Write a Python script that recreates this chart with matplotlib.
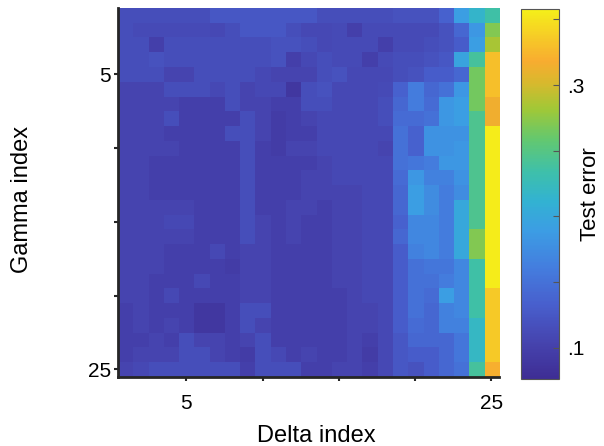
import numpy as np
import matplotlib
matplotlib.use("Agg")
import matplotlib.pyplot as plt
from matplotlib.colors import LinearSegmentedColormap

plt.rcParams["font.family"] = ["Liberation Sans", "DejaVu Sans"]

# test error, rows = gamma index 1..25 (top to bottom), cols = delta index 1..25
test_error = [
    [0.115, 0.115, 0.115, 0.115, 0.115, 0.115, 0.125, 0.125, 0.125, 0.125, 0.125, 0.125, 0.125, 0.115, 0.115, 0.115, 0.115, 0.115, 0.12, 0.12, 0.12, 0.135, 0.19, 0.215, 0.235],
    [0.115, 0.112, 0.112, 0.112, 0.112, 0.112, 0.11, 0.115, 0.125, 0.125, 0.125, 0.115, 0.11, 0.11, 0.112, 0.10, 0.112, 0.112, 0.112, 0.112, 0.112, 0.12, 0.14, 0.185, 0.27],
    [0.115, 0.115, 0.10, 0.115, 0.115, 0.115, 0.115, 0.115, 0.115, 0.115, 0.12, 0.12, 0.115, 0.11, 0.112, 0.112, 0.112, 0.10, 0.112, 0.112, 0.115, 0.12, 0.13, 0.19, 0.285],
    [0.115, 0.115, 0.12, 0.115, 0.115, 0.115, 0.115, 0.115, 0.115, 0.115, 0.12, 0.10, 0.11, 0.115, 0.112, 0.112, 0.10, 0.112, 0.115, 0.115, 0.12, 0.125, 0.195, 0.24, 0.33],
    [0.115, 0.115, 0.115, 0.105, 0.105, 0.115, 0.115, 0.115, 0.115, 0.11, 0.105, 0.105, 0.105, 0.115, 0.12, 0.11, 0.11, 0.11, 0.115, 0.12, 0.13, 0.13, 0.14, 0.265, 0.33],
    [0.105, 0.105, 0.105, 0.115, 0.115, 0.115, 0.11, 0.115, 0.105, 0.11, 0.11, 0.09, 0.115, 0.12, 0.11, 0.11, 0.11, 0.112, 0.135, 0.16, 0.14, 0.15, 0.185, 0.265, 0.33],
    [0.105, 0.105, 0.105, 0.105, 0.10, 0.10, 0.10, 0.115, 0.105, 0.105, 0.10, 0.10, 0.115, 0.115, 0.11, 0.11, 0.11, 0.115, 0.14, 0.16, 0.145, 0.185, 0.19, 0.265, 0.315],
    [0.105, 0.105, 0.105, 0.115, 0.10, 0.10, 0.10, 0.10, 0.115, 0.105, 0.095, 0.10, 0.105, 0.11, 0.11, 0.11, 0.11, 0.115, 0.145, 0.145, 0.15, 0.185, 0.19, 0.245, 0.315],
    [0.105, 0.105, 0.105, 0.10, 0.10, 0.10, 0.10, 0.115, 0.115, 0.105, 0.095, 0.10, 0.10, 0.11, 0.11, 0.11, 0.11, 0.11, 0.15, 0.135, 0.18, 0.18, 0.18, 0.245, 0.355],
    [0.105, 0.105, 0.105, 0.105, 0.10, 0.10, 0.10, 0.10, 0.115, 0.10, 0.095, 0.105, 0.105, 0.11, 0.11, 0.11, 0.11, 0.105, 0.15, 0.135, 0.18, 0.18, 0.185, 0.245, 0.355],
    [0.105, 0.105, 0.10, 0.10, 0.10, 0.10, 0.10, 0.10, 0.115, 0.10, 0.10, 0.10, 0.10, 0.105, 0.11, 0.11, 0.11, 0.11, 0.15, 0.155, 0.16, 0.185, 0.185, 0.245, 0.355],
    [0.105, 0.105, 0.10, 0.10, 0.10, 0.10, 0.10, 0.10, 0.115, 0.10, 0.10, 0.10, 0.105, 0.105, 0.11, 0.11, 0.11, 0.11, 0.145, 0.185, 0.165, 0.165, 0.18, 0.245, 0.355],
    [0.105, 0.105, 0.10, 0.10, 0.10, 0.10, 0.10, 0.10, 0.115, 0.10, 0.10, 0.10, 0.105, 0.105, 0.105, 0.105, 0.11, 0.11, 0.14, 0.19, 0.175, 0.16, 0.175, 0.245, 0.355],
    [0.105, 0.105, 0.105, 0.105, 0.105, 0.10, 0.10, 0.10, 0.115, 0.10, 0.10, 0.105, 0.105, 0.10, 0.105, 0.105, 0.11, 0.11, 0.14, 0.19, 0.175, 0.16, 0.20, 0.245, 0.355],
    [0.105, 0.105, 0.105, 0.11, 0.11, 0.10, 0.10, 0.10, 0.115, 0.105, 0.10, 0.105, 0.10, 0.10, 0.105, 0.105, 0.11, 0.11, 0.135, 0.17, 0.17, 0.16, 0.20, 0.245, 0.355],
    [0.105, 0.105, 0.105, 0.105, 0.105, 0.10, 0.10, 0.10, 0.115, 0.105, 0.10, 0.105, 0.10, 0.10, 0.105, 0.105, 0.11, 0.11, 0.14, 0.17, 0.17, 0.16, 0.20, 0.27, 0.355],
    [0.105, 0.105, 0.105, 0.10, 0.10, 0.10, 0.11, 0.10, 0.105, 0.105, 0.10, 0.10, 0.10, 0.10, 0.105, 0.105, 0.11, 0.11, 0.13, 0.165, 0.17, 0.16, 0.20, 0.27, 0.355],
    [0.105, 0.105, 0.105, 0.10, 0.10, 0.10, 0.10, 0.095, 0.105, 0.105, 0.10, 0.10, 0.10, 0.10, 0.105, 0.105, 0.11, 0.11, 0.13, 0.15, 0.155, 0.155, 0.17, 0.235, 0.355],
    [0.105, 0.105, 0.10, 0.10, 0.10, 0.11, 0.10, 0.10, 0.105, 0.105, 0.10, 0.10, 0.10, 0.10, 0.105, 0.105, 0.11, 0.11, 0.13, 0.15, 0.15, 0.16, 0.17, 0.235, 0.355],
    [0.105, 0.105, 0.10, 0.11, 0.10, 0.10, 0.10, 0.10, 0.105, 0.105, 0.10, 0.10, 0.10, 0.10, 0.10, 0.105, 0.11, 0.11, 0.13, 0.15, 0.145, 0.19, 0.17, 0.235, 0.335],
    [0.10, 0.105, 0.10, 0.10, 0.10, 0.09, 0.09, 0.10, 0.115, 0.115, 0.10, 0.10, 0.10, 0.10, 0.10, 0.105, 0.105, 0.11, 0.13, 0.15, 0.14, 0.165, 0.17, 0.235, 0.335],
    [0.10, 0.105, 0.10, 0.105, 0.10, 0.09, 0.09, 0.10, 0.115, 0.105, 0.10, 0.10, 0.10, 0.10, 0.10, 0.105, 0.105, 0.11, 0.13, 0.145, 0.14, 0.165, 0.165, 0.22, 0.335],
    [0.10, 0.10, 0.105, 0.10, 0.115, 0.105, 0.105, 0.10, 0.105, 0.115, 0.10, 0.10, 0.10, 0.10, 0.10, 0.105, 0.10, 0.11, 0.125, 0.14, 0.14, 0.14, 0.155, 0.22, 0.335],
    [0.10, 0.105, 0.105, 0.105, 0.115, 0.115, 0.105, 0.10, 0.095, 0.115, 0.11, 0.10, 0.105, 0.10, 0.10, 0.105, 0.095, 0.11, 0.125, 0.13, 0.13, 0.14, 0.155, 0.22, 0.335],
    [0.105, 0.11, 0.115, 0.115, 0.115, 0.115, 0.115, 0.115, 0.10, 0.115, 0.115, 0.115, 0.10, 0.10, 0.105, 0.105, 0.10, 0.11, 0.125, 0.12, 0.13, 0.14, 0.15, 0.24, 0.32],
]
tick_idx = [5, 10, 15, 20, 25]
tick_labels = ["5", "", "", "", "25"]
cbar_ticks = [0.10, 0.15, 0.20, 0.25, 0.30, 0.35]
cbar_labels = [".1", "", "", "", ".3", ""]
clim = (0.076, 0.358)

# parula-like colormap, matched by eye to the reference rendering
cmap_stops = [
    (0.00, (62, 45, 148)),
    (0.10, (70, 68, 175)),
    (0.20, (72, 95, 205)),
    (0.30, (68, 125, 222)),
    (0.40, (60, 157, 228)),
    (0.48, (50, 178, 210)),
    (0.56, (62, 192, 170)),
    (0.65, (100, 200, 110)),
    (0.73, (160, 200, 55)),
    (0.80, (215, 185, 45)),
    (0.86, (248, 172, 48)),
    (0.93, (246, 205, 38)),
    (1.00, (245, 240, 25)),
]
parula = LinearSegmentedColormap.from_list(
    "parula", [(t, tuple(c / 255 for c in rgb)) for t, rgb in cmap_stops])

axis_col = "#262626"
data = np.array(test_error)
n = data.shape[0]

fig = plt.figure(figsize=(6.04, 4.46), dpi=100)
ax = fig.add_axes([0.195, 0.155, 0.631, 0.827])
im = ax.imshow(data, cmap=parula, vmin=clim[0], vmax=clim[1], aspect="auto",
               interpolation="nearest", extent=(0.5, n + 0.5, n + 0.5, 0.5))

ax.set_xticks(tick_idx)
ax.set_xticklabels(tick_labels)
ax.set_yticks(tick_idx)
ax.set_yticklabels(tick_labels)
ax.tick_params(direction="out", length=3, width=1.5, color=axis_col,
               labelsize=15, labelcolor="black")
ax.tick_params(axis="x", pad=9)
ax.tick_params(axis="y", pad=2)
for side in ["top", "right"]:
    ax.spines[side].set_visible(False)
for side in ["left", "bottom"]:
    ax.spines[side].set_color(axis_col)
    ax.spines[side].set_linewidth(2)

ax.set_xlabel("Delta index", fontsize=17)
ax.set_ylabel("Gamma index", fontsize=17)
ax.xaxis.set_label_coords(0.52, -0.13)
ax.yaxis.set_label_coords(-0.222, 0.48)

cax = fig.add_axes([0.8626, 0.150, 0.063, 0.830])
cb = fig.colorbar(im, cax=cax)
cb.set_ticks(cbar_ticks)
cb.set_ticklabels(cbar_labels)
cb.outline.set_edgecolor("#555555")
cb.outline.set_linewidth(0.8)
cax.tick_params(direction="in", length=4, width=0.8, color="#555555",
                labelsize=15, pad=6)
cb.set_label("Test error", fontsize=16)
cax.yaxis.set_label_coords(1.55, 0.5)

fig.savefig("out.png", dpi=100)
